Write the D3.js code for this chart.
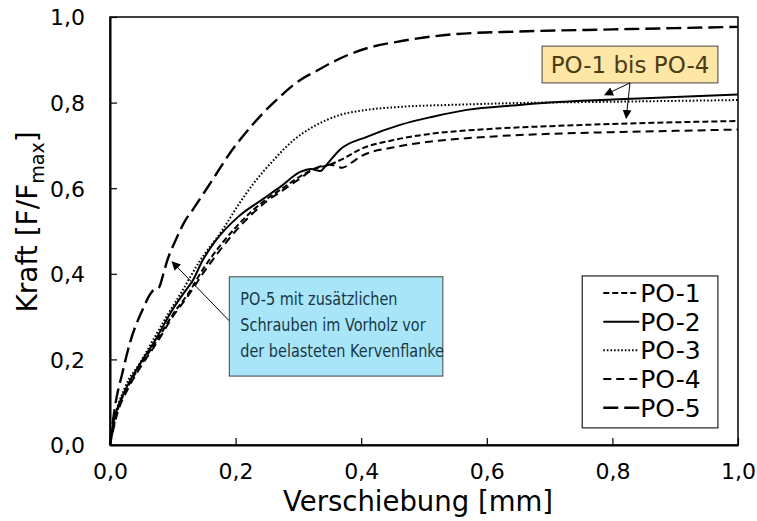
<!DOCTYPE html>
<html>
<head>
<meta charset="utf-8">
<script src="https://cdn.jsdelivr.net/npm/d3@7"></script>
<style>
  body { margin: 0; background: #fff; }
  svg { display: block; font-family: "DejaVu Sans", Verdana, sans-serif; }
</style>
</head>
<body>
<svg id="chart" width="757" height="521"></svg>
<script>
// load-displacement curves, [Verschiebung mm, F/Fmax]
const po1 = [[0,0],[0.01,0.07],[0.03,0.14],[0.05,0.19],[0.075,0.245],[0.1,0.305],[0.125,0.355],[0.15,0.415],[0.175,0.465],[0.2,0.508],[0.225,0.545],[0.25,0.575],[0.275,0.6],[0.3,0.625],[0.325,0.645],[0.35,0.655],[0.37,0.668],[0.4,0.692],[0.45,0.712],[0.5,0.725],[0.6,0.738],[0.7,0.745],[0.8,0.75],[0.9,0.754],[1.0,0.757]]
const po2 = [[0,0],[0.005,0.05],[0.013,0.09],[0.03,0.145],[0.045,0.183],[0.072,0.245],[0.099,0.315],[0.12,0.36],[0.132,0.385],[0.147,0.43],[0.167,0.475],[0.204,0.533],[0.244,0.575],[0.271,0.603],[0.303,0.638],[0.32,0.645],[0.335,0.64],[0.345,0.655],[0.366,0.69],[0.409,0.72],[0.462,0.748],[0.514,0.767],[0.568,0.783],[0.648,0.794],[0.7,0.8],[0.8,0.807],[0.9,0.813],[1.0,0.819]]
const po3 = [[0,0],[0.003,0.03],[0.024,0.135],[0.047,0.19],[0.09,0.3],[0.115,0.36],[0.143,0.43],[0.178,0.5],[0.204,0.56],[0.228,0.61],[0.26,0.665],[0.292,0.712],[0.323,0.743],[0.366,0.771],[0.409,0.783],[0.462,0.79],[0.55,0.795],[0.65,0.799],[0.8,0.802],[1.0,0.806]]
const po4 = [[0,0],[0.01,0.065],[0.03,0.135],[0.05,0.185],[0.075,0.24],[0.1,0.3],[0.125,0.35],[0.15,0.405],[0.175,0.455],[0.2,0.5],[0.225,0.538],[0.25,0.57],[0.275,0.595],[0.3,0.62],[0.325,0.645],[0.35,0.655],[0.37,0.648],[0.385,0.66],[0.4,0.675],[0.45,0.695],[0.5,0.707],[0.6,0.72],[0.7,0.727],[0.8,0.731],[0.9,0.734],[1.0,0.737]]
const po5 = [[0,0],[0.008,0.09],[0.02,0.17],[0.032,0.24],[0.05,0.31],[0.068,0.36],[0.078,0.368],[0.085,0.4],[0.091,0.43],[0.105,0.48],[0.12,0.525],[0.132,0.55],[0.15,0.59],[0.17,0.635],[0.19,0.68],[0.207,0.713],[0.225,0.745],[0.244,0.776],[0.27,0.813],[0.303,0.853],[0.33,0.875],[0.355,0.895],[0.38,0.912],[0.409,0.927],[0.457,0.942],[0.5,0.952],[0.55,0.96],[0.65,0.966],[0.8,0.971],[0.9,0.974],[1.0,0.977]]

const seriesNames = ["PO-1", "PO-2", "PO-3", "PO-4", "PO-5"]
const seriesData = [po1, po2, po3, po4, po5]
const xTicks = [0, 0.2, 0.4, 0.6, 0.8, 1.0]
const yTicks = [0, 0.2, 0.4, 0.6, 0.8, 1.0]

// line styles per series
const dashes = ["6,3", null, "1.6,2", "8,5", "15,6"]
const widths = [2, 2, 2, 2, 2.4]

const width = 757
const height = 521
const margin = { top: 17, right: 19, bottom: 76, left: 110 }

const svg = d3.select("#chart")

const xScale = d3.scaleLinear().domain([0, 1]).range([margin.left, width - margin.right])
const yScale = d3.scaleLinear().domain([0, 1]).range([height - margin.bottom, margin.top])
const fmt = (d) => d3.format(".1f")(d).replace(".", ",")

svg.append("defs").append("marker")
  .attr("id", "arrow")
  .attr("viewBox", "0 0 10 10")
  .attr("refX", 9).attr("refY", 5)
  .attr("markerWidth", 9).attr("markerHeight", 9)
  .attr("markerUnits", "userSpaceOnUse")
  .attr("orient", "auto")
  .append("path").attr("d", "M0,0L10,5L0,10z").attr("fill", "#000")

// plot frame
svg.append("rect")
  .attr("x", xScale(0)).attr("y", yScale(1))
  .attr("width", xScale(1) - xScale(0)).attr("height", yScale(0) - yScale(1))
  .attr("fill", "none").attr("stroke", "#000").attr("stroke-width", 1.5)

const line = d3.line().x((d) => xScale(d[0])).y((d) => yScale(d[1])).curve(d3.curveMonotoneX)

svg.append("g").selectAll("path")
  .data(seriesData)
  .join("path")
  .attr("d", line)
  .attr("fill", "none")
  .attr("stroke", "#000")
  .attr("stroke-width", (d, i) => widths[i])
  .attr("stroke-dasharray", (d, i) => dashes[i])

// axes with inward ticks
const xAxis = svg.append("g")
  .attr("transform", `translate(0, ${yScale(0)})`)
  .call(d3.axisBottom(xScale).tickValues(xTicks).tickFormat(fmt).tickSizeInner(-7).tickSizeOuter(0).tickPadding(18))
const yAxis = svg.append("g")
  .attr("transform", `translate(${xScale(0)}, 0)`)
  .call(d3.axisLeft(yScale).tickValues(yTicks).tickFormat(fmt).tickSizeInner(-7).tickSizeOuter(0).tickPadding(25))

for (const ax of [xAxis, yAxis]) {
  ax.select(".domain").attr("stroke", "#000").attr("stroke-width", 2)
  ax.selectAll(".tick line").attr("stroke", "#000").attr("stroke-width", 1.2)
  ax.selectAll(".tick text").attr("font-family", "DejaVu Sans").attr("font-size", 22).attr("fill", "#000")
}
yAxis.selectAll(".tick text").attr("dy", "0.36em")

svg.append("text")
  .attr("x", 418).attr("y", 511)
  .attr("text-anchor", "middle").attr("font-size", 27.5)
  .text("Verschiebung [mm]")

const yTitle = svg.append("text")
  .attr("transform", `translate(37, 222) rotate(-90)`)
  .attr("text-anchor", "middle").attr("font-size", 28)
yTitle.append("tspan").text("Kraft [F/F")
yTitle.append("tspan").attr("font-size", 19).attr("dy", 7).text("max")
yTitle.append("tspan").attr("dy", -7).text("]")

// legend
const legBox = { x0: 0.752, x1: 0.968, y0: 0.395, y1: 0.04 }
svg.append("rect")
  .attr("x", xScale(legBox.x0)).attr("y", yScale(legBox.y0))
  .attr("width", xScale(legBox.x1) - xScale(legBox.x0))
  .attr("height", yScale(legBox.y1) - yScale(legBox.y0))
  .attr("fill", "#fff").attr("stroke", "#222").attr("stroke-width", 1.2)

const legend = svg.append("g")
  .selectAll("g")
  .data(seriesNames)
  .join("g")
  .attr("transform", (d, i) => `translate(${xScale(legBox.x0) + 21}, ${yScale(legBox.y0) + 17 + i * 28.7})`)
legend.append("line")
  .attr("x1", 0).attr("x2", 36)
  .attr("stroke", "#000")
  .attr("stroke-width", (d, i) => widths[i])
  .attr("stroke-dasharray", (d, i) => dashes[i])
legend.append("text")
  .attr("x", 37).attr("dy", "0.36em")
  .attr("font-size", 25)
  .text((d) => d)

// annotation: PO-1 bis PO-4
const yel = { x0: 0.688, x1: 0.968, y0: 0.932, y1: 0.846 }
svg.append("rect")
  .attr("x", xScale(yel.x0)).attr("y", yScale(yel.y0))
  .attr("width", xScale(yel.x1) - xScale(yel.x0)).attr("height", yScale(yel.y1) - yScale(yel.y0))
  .attr("fill", "#fde6a6").attr("stroke", "#444").attr("stroke-width", 1)
svg.append("text")
  .attr("x", (xScale(yel.x0) + xScale(yel.x1)) / 2).attr("y", (yScale(yel.y0) + yScale(yel.y1)) / 2)
  .attr("dy", "0.36em").attr("text-anchor", "middle")
  .attr("font-size", 23).attr("fill", "#4a3c14")
  .text("PO-1 bis PO-4")

const yelArrows = [[[0.828, 0.846], [0.788, 0.818]], [[0.828, 0.846], [0.822, 0.764]]]
svg.append("g").selectAll("line")
  .data(yelArrows)
  .join("line")
  .attr("x1", (d) => xScale(d[0][0])).attr("y1", (d) => yScale(d[0][1]))
  .attr("x2", (d) => xScale(d[1][0])).attr("y2", (d) => yScale(d[1][1]))
  .attr("stroke", "#000").attr("stroke-width", 1)
  .attr("marker-end", "url(#arrow)")

// annotation: PO-5
const blue = { x0: 0.19, x1: 0.53, y0: 0.393, y1: 0.161 }
const blueLines = ["PO-5 mit zusätzlichen", "Schrauben im Vorholz vor", "der belasteten Kervenflanke"]
svg.append("line")
  .attr("x1", xScale(0.19)).attr("y1", yScale(0.29))
  .attr("x2", xScale(0.099)).attr("y2", yScale(0.428))
  .attr("stroke", "#000").attr("stroke-width", 1)
  .attr("marker-end", "url(#arrow)")
svg.append("rect")
  .attr("x", xScale(blue.x0)).attr("y", yScale(blue.y0))
  .attr("width", xScale(blue.x1) - xScale(blue.x0)).attr("height", yScale(blue.y1) - yScale(blue.y0))
  .attr("fill", "#a9e5f8").attr("stroke", "#444").attr("stroke-width", 1)
// the box text is set narrower than the axis font
svg.append("g").selectAll("text")
  .data(blueLines)
  .join("text")
  .attr("x", xScale(blue.x0) + 11)
  .attr("y", (d, i) => yScale(blue.y0) + 28 + i * 26)
  .attr("font-size", 18.5).attr("fill", "#163848")
  .text((d) => d)
  .each(function () {
    const len = this.getComputedTextLength()
    d3.select(this).attr("textLength", len * 0.78).attr("lengthAdjust", "spacingAndGlyphs")
  })
</script>
</body>
</html>
